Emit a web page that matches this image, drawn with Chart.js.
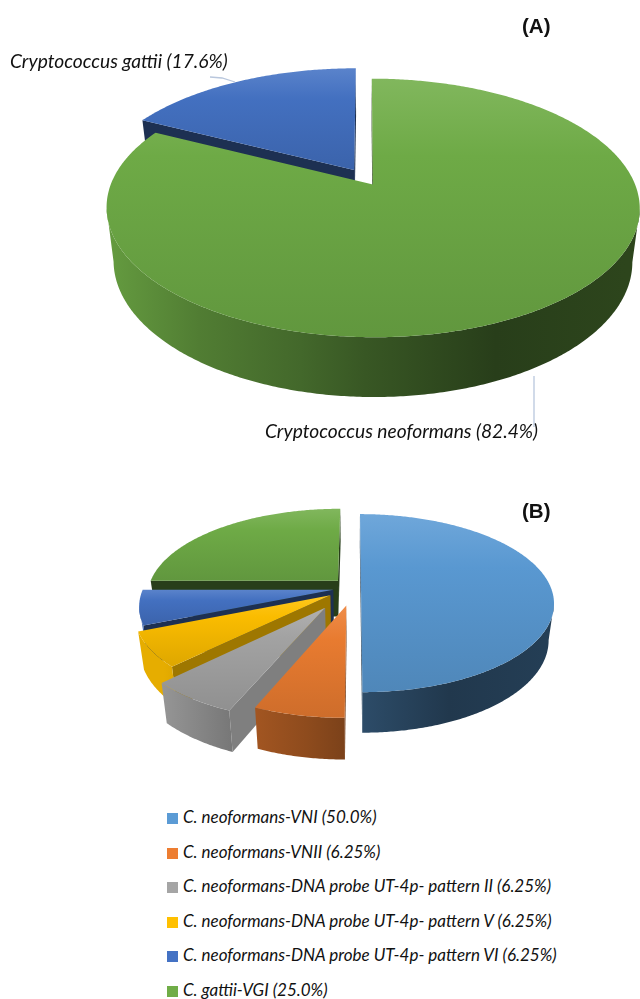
<!DOCTYPE html>
<html>
<head>
<meta charset="utf-8">
<title>Cryptococcus species and molecular types</title>
<script src="https://cdn.jsdelivr.net/npm/chart.js@4"></script>
<style>
  html, body { margin: 0; background: #fff; }
  #page { position: relative; width: 640px; height: 999px; overflow: hidden; background: #fff; color: #111; }
  canvas { position: absolute; left: 0; }
  .note { position: absolute; white-space: nowrap; font: italic 19.2px Lato, sans-serif; line-height: 20px; }
  .tag { position: absolute; font: bold 20.5px "Liberation Sans", Arial, sans-serif; line-height: 20px; }
  .key { position: absolute; left: 167px; white-space: nowrap; font: italic 17px Lato, sans-serif; line-height: 20px; }
  .key i { display: inline-block; width: 11px; height: 11px; margin-right: 5px; vertical-align: -1px; }
</style>
</head>
<body>
<div id="page">
  <canvas id="pie-a" width="640" height="460" style="top:0"></canvas>
  <canvas id="pie-b" width="640" height="300" style="top:480px"></canvas>
  <div class="tag" style="left:522px;top:16px">(A)</div>
  <div class="tag" style="left:522px;top:501px">(B)</div>
  <div class="note" id="note-gattii" style="left:10px;top:51px"></div>
  <div class="note" id="note-neo" style="left:265px;top:421px"></div>
  <div id="keys"></div>
</div>
<script>
// species split
var labelsA = ['Cryptococcus neoformans', 'Cryptococcus gattii'];
var valuesA = [82.4, 17.6];
var explodeA = [14, 22];
var colorsA = ['#70ad47', '#4472c4'];
var edgeShadeA = [0.35, 0.42];

// molecular types
var labelsB = [
  'C. neoformans-VNI',
  'C. neoformans-VNII',
  'C. neoformans-DNA probe UT-4p- pattern II',
  'C. neoformans-DNA probe UT-4p- pattern V',
  'C. neoformans-DNA probe UT-4p- pattern VI',
  'C. gattii-VGI'
];
var valuesB = [50.0, 6.25, 6.25, 6.25, 6.25, 25.0];
var explodeB = [7, 38, 50, 28, 21, 23];
var colorsB = ['#5b9bd5', '#ed7d31', '#a5a5a5', '#ffc000', '#4472c4', '#70ad47'];
var edgeShadeB = [0.4, 0.5, 0.77, 0.62, 0.42, 0.36];

// side wall brightness from the left to the right of the pie
var wallStops = [[0, 0.9], [0.18, 0.72], [0.375, 0.6], [0.5, 0.5], [0.75, 0.36], [1, 0.4]];

function shade(hex, f) {
  var n = parseInt(hex.slice(1), 16);
  var rgb = [n >> 16, (n >> 8) & 255, n & 255].map(function (c) {
    return Math.round(f > 1 ? c + (255 - c) * (f - 1) : c * f);
  });
  return 'rgb(' + rgb.join(',') + ')';
}

function fillPoly(ctx, pts, style) {
  ctx.beginPath();
  pts.forEach(function (p, i) { if (i) ctx.lineTo(p.x, p.y); else ctx.moveTo(p.x, p.y); });
  ctx.closePath();
  ctx.fillStyle = style;
  ctx.fill();
}

// Pie drawn as an exploded, tilted disc: the arcs keep the angles and radius
// Chart.js computed, only their projection onto the canvas is replaced.
function extruded(view, colors, edgeShade, leaders) {
  return {
    id: 'extruded',
    beforeDatasetsDraw: function (chart) {
      var ctx = chart.ctx;
      var arcs = chart.getDatasetMeta(0).data;
      var slices = arcs.map(function (arc, idx) {
        var a = arc.getProps(['x', 'y', 'startAngle', 'endAngle', 'outerRadius']);
        var R = a.outerRadius;
        var mid = (a.startAngle + a.endAngle) / 2;
        var off = arc.options.offset;
        var project = function (X, Y, low) {
          var s = 1 / (1 - view.persp * Y / R);
          var z = low ? view.shrink : 1;
          return { x: a.x + X * s * z, y: a.y + view.squash * Y * s * z + (low ? view.depth * s : 0) };
        };
        var ox = off * Math.cos(mid), oy = off * Math.sin(mid);
        var rimAt = function (t, low) { return project(ox + R * Math.cos(t), oy + R * Math.sin(t), low); };
        var steps = Math.ceil((a.endAngle - a.startAngle) / 0.01);
        var angles = [];
        for (var i = 0; i <= steps; i++) angles.push(a.startAngle + (a.endAngle - a.startAngle) * i / steps);
        return { idx: idx, a: a, R: R, mid: mid, oy: oy, project: project, ox: ox, rimAt: rimAt, angles: angles };
      });

      // back slices first
      slices.sort(function (p, q) { return Math.sin(p.mid) * p.R + p.oy - Math.sin(q.mid) * q.R - q.oy; });

      slices.forEach(function (sl) {
        var color = colors[sl.idx];
        var apex = sl.project(sl.ox, sl.oy, false);
        var apexLow = sl.project(sl.ox, sl.oy, true);
        var midRim = sl.rimAt(sl.mid, false);
        var drop = { x: apexLow.x - apex.x, y: apexLow.y - apex.y };

        // cut faces, only the ones turned towards the viewer
        [sl.a.startAngle, sl.a.endAngle].forEach(function (t) {
          var rim = sl.rimAt(t, false);
          var ex = rim.x - apex.x, ey = rim.y - apex.y;
          var inner = ex * (midRim.y - apex.y) - ey * (midRim.x - apex.x);
          var out = ex * drop.y - ey * drop.x;
          if (inner * out < 0) {
            fillPoly(ctx, [apex, rim, sl.rimAt(t, true), apexLow], shade(color, edgeShade[sl.idx]));
          }
        });

        // outer rim, front part only
        var front = sl.angles.filter(function (t) { return Math.sin(t) > view.persp; });
        if (front.length > 1) {
          var pts = front.map(function (t) { return sl.rimAt(t, false); })
            .concat(front.slice().reverse().map(function (t) { return sl.rimAt(t, true); }));
          var g = ctx.createLinearGradient(sl.a.x - sl.R, 0, sl.a.x + sl.R, 0);
          wallStops.forEach(function (st) { g.addColorStop(st[0], shade(color, st[1])); });
          fillPoly(ctx, pts, g);
        }
      });

      slices.forEach(function (sl) {
        var color = colors[sl.idx];
        var pts = [sl.project(sl.ox, sl.oy, false)].concat(sl.angles.map(function (t) { return sl.rimAt(t, false); }));
        var ys = pts.map(function (p) { return p.y; });
        var g = ctx.createLinearGradient(0, Math.min.apply(null, ys), 0, Math.max.apply(null, ys));
        g.addColorStop(0, shade(color, 1.12));
        g.addColorStop(0.3, shade(color, 0.98));
        g.addColorStop(1, shade(color, 0.87));
        fillPoly(ctx, pts, g);
      });

      ctx.strokeStyle = '#b9c7dd';
      ctx.lineWidth = 1.3;
      leaders.forEach(function (line) {
        ctx.beginPath();
        line.forEach(function (p, i) { if (i) ctx.lineTo(p[0], p[1]); else ctx.moveTo(p[0], p[1]); });
        ctx.stroke();
      });
      return false;
    }
  };
}

function makePie(id, labels, values, explode, colors, edgeShade, view, padding, leaders) {
  return new Chart(document.getElementById(id), {
    type: 'pie',
    data: { labels: labels, datasets: [{ data: values, backgroundColor: colors, offset: explode, radius: view.radius, borderWidth: 0 }] },
    options: {
      responsive: false,
      animation: false,
      events: [],
      layout: { padding: padding },
      plugins: { legend: { display: false }, tooltip: { enabled: false } }
    },
    plugins: [extruded(view, colors, edgeShade, leaders)]
  });
}

makePie('pie-a', labelsA, valuesA, explodeA, colorsA, edgeShadeA,
  { radius: 260, squash: 0.473, persp: 0.18, depth: 52, shrink: 0.973 },
  { left: 91, bottom: 102.4 },
  [[[534, 376], [534, 427]], [[210, 77], [222, 78], [235, 82]]]);

makePie('pie-b', labelsB, valuesB, explodeB, colorsB, edgeShadeB,
  { radius: 190, squash: 0.455, persp: 0.17, depth: 36, shrink: 0.973 },
  { left: 68, bottom: 84 },
  []);

function pct(v) { return v.toFixed(v * 10 === Math.round(v * 10) ? 1 : 2); }

document.getElementById('note-neo').textContent = labelsA[0] + ' (' + pct(valuesA[0]) + '%)';
document.getElementById('note-gattii').textContent = labelsA[1] + ' (' + pct(valuesA[1]) + '%)';

document.getElementById('keys').innerHTML = labelsB.map(function (name, i) {
  return '<div class="key" style="top:' + (807 + i * 34.6) + 'px"><i style="background:' + colorsB[i] + '"></i>' +
    name + ' (' + pct(valuesB[i]) + '%)</div>';
}).join('');
</script>
</body>
</html>
